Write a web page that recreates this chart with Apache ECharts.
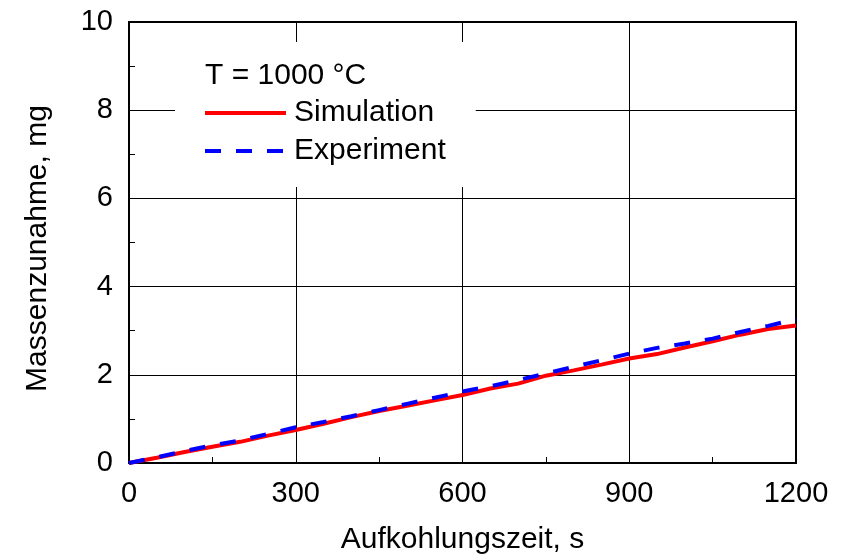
<!DOCTYPE html>
<html>
<head>
<meta charset="utf-8">
<script src="https://cdn.jsdelivr.net/npm/echarts@6/dist/echarts.min.js"></script>
<style>
  html, body { margin: 0; padding: 0; background: #fff; }
  #chart { width: 852px; height: 560px; }
</style>
</head>
<body>
<div id="chart"></div>
<script>
// Carburizing time in seconds
const times = [0, 50, 100, 150, 200, 250, 300, 350, 400, 450, 500, 550, 600,
               650, 700, 750, 800, 850, 900, 950, 1000, 1050, 1100, 1150, 1200];
// Mass gain in mg, simulated
const simulation = [0, 0.12, 0.25, 0.37, 0.48, 0.62, 0.75, 0.89, 1.04, 1.18, 1.30, 1.42, 1.54,
                    1.69, 1.80, 1.98, 2.10, 2.23, 2.37, 2.47, 2.62, 2.76, 2.91, 3.04, 3.12];
// Mass gain in mg, measured
const experiment = [0, 0.13, 0.27, 0.40, 0.51, 0.66, 0.81, 0.93, 1.06, 1.20, 1.34, 1.48, 1.62,
                    1.74, 1.88, 2.03, 2.18, 2.33, 2.48, 2.61, 2.71, 2.82, 2.97, 3.11, 3.26];

const xTicks = [0, 300, 600, 900, 1200];
const yTicks = [0, 2, 4, 6, 8, 10];
const seriesNames = ['Simulation', 'Experiment'];
const conditionLabel = 'T = 1000 °C';
const xName = 'Aufkohlungszeit, s';
const yName = 'Massenzunahme, mg';

const FONT = '"Liberation Sans", Arial, sans-serif';
const FS = 30;      // names and legend
const FS_TICK = 29; // tick labels

const chart = echarts.init(document.getElementById('chart'), null, { renderer: 'canvas' });

const pairs = arr => times.map((t, i) => [t, arr[i]]);

chart.setOption({
  animation: false,
  backgroundColor: '#fff',
  grid: {
    left: 129, right: 56, top: 22, bottom: 93,
    show: true, borderColor: '#000', borderWidth: 2, backgroundColor: 'transparent'
  },
  xAxis: {
    type: 'value',
    min: xTicks[0], max: xTicks[xTicks.length - 1], interval: 300,
    name: xName, nameLocation: 'middle', nameGap: 62,
    nameTextStyle: { fontFamily: FONT, fontSize: FS, color: '#000' },
    axisLine: { show: false },
    axisTick: { show: true, inside: true, length: 6, lineStyle: { color: '#000' } },
    minorTick: { show: true, splitNumber: 2, length: 6, lineStyle: { color: '#000', width: 1 } },
    splitLine: { show: true, lineStyle: { color: '#000', width: 1 } },
    axisLabel: {
      fontFamily: FONT, fontSize: FS_TICK, color: '#000', margin: 16,
      formatter: v => String(v)
    }
  },
  yAxis: {
    type: 'value',
    min: yTicks[0], max: yTicks[yTicks.length - 1], interval: 2,
    name: yName, nameLocation: 'middle', nameGap: 76, nameRotate: 90,
    nameTextStyle: { fontFamily: FONT, fontSize: FS, color: '#000', padding: [0, 12, 0, 0] },
    axisLine: { show: false },
    axisTick: { show: true, inside: true, length: 6, lineStyle: { color: '#000' } },
    minorTick: { show: true, splitNumber: 2, length: 6, lineStyle: { color: '#000', width: 1 } },
    splitLine: { show: true, lineStyle: { color: '#000', width: 1 } },
    axisLabel: {
      fontFamily: FONT, fontSize: FS_TICK, color: '#000', margin: 16,
      formatter: v => String(v)
    }
  },
  legend: {
    orient: 'vertical',
    left: 175, top: 42,
    padding: [52, 30, 17, 28],
    backgroundColor: '#fff',
    itemWidth: 81, itemHeight: 14, itemGap: 0,
    itemStyle: { opacity: 0 },
    lineStyle: { width: 4 },
    data: seriesNames,
    textStyle: { fontFamily: FONT, fontSize: FS, color: '#000', lineHeight: 38, padding: [0, 0, 0, 3] }
  },
  graphic: [{
    type: 'text', left: 205, top: 61, z: 100,
    style: { text: conditionLabel, font: FS + 'px ' + FONT, fill: '#000' }
  }],
  series: [
    {
      name: seriesNames[0], type: 'line', data: pairs(simulation),
      showSymbol: false, symbol: 'none', smooth: false, z: 3,
      lineStyle: { color: '#ff0000', width: 4 },
      itemStyle: { color: '#ff0000' }
    },
    {
      name: seriesNames[1], type: 'line', data: pairs(experiment),
      showSymbol: false, symbol: 'none', smooth: false, z: 4,
      lineStyle: { color: '#0000ff', width: 4, type: [16, 15] },
      itemStyle: { color: '#0000ff' }
    }
  ]
});
</script>
</body>
</html>
